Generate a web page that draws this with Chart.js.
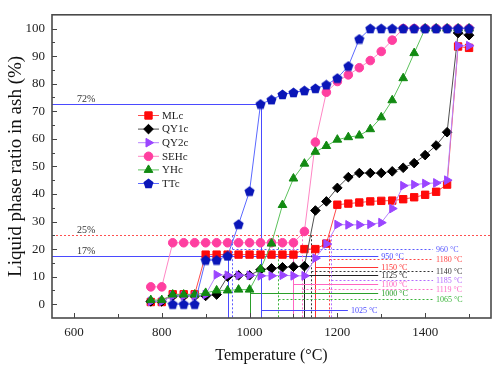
<!DOCTYPE html>
<html>
<head>
<meta charset="utf-8">
<script src="https://cdn.jsdelivr.net/npm/chart.js@4.4.1/dist/chart.umd.min.js"></script>
<style>
  html, body { margin: 0; padding: 0; background: #fff; }
  #wrap { width: 500px; height: 366px; }
</style>
</head>
<body>
<div id="wrap"><canvas id="graph" width="500" height="366"></canvas></div>
<script>
// temperatures (°C) and liquid phase ratio (%) for each ash
const temps = [775, 800, 825, 850, 875, 900, 925, 950, 975, 1000, 1025, 1050, 1075, 1100, 1125,
               1150, 1175, 1200, 1225, 1250, 1275, 1300, 1325, 1350, 1375, 1400, 1425, 1450, 1475, 1500];
const mlc  = [0.8, 0.8, 3.6, 3.6, 3.6, 18, 18, 18, 18, 18, 18, 18, 18, 18, 20,
              20, 22, 36.1, 36.5, 36.9, 37.3, 37.5, 37.6, 38.1, 38.8, 39.7, 40.8, 43.4, 93.5, 93];
const qy1c = [1, 1, 3, 3, 3, 3, 3.5, 10, 10.5, 10.5, 12.5, 13, 13.4, 13.6, 13.8,
              34, 37.3, 42.2, 46.1, 47.6, 47.6, 47.6, 48.2, 49.5, 51.2, 54.1, 57.6, 62.4, 98.4, 97.6];
const qy2c = [1, 1, 3, 3, 3, 3.5, 10.7, 10.5, 10.5, 10.5, 10.3, 10.3, 10.5, 10.3, 10.3,
              16.7, 21.9, 28.9, 28.8, 28.8, 29, 29.6, 34.7, 43, 43.4, 43.8, 44, 45, 93.8, 93.8];
const sehc = [6.3, 6.3, 22.3, 22.3, 22.3, 22.3, 22.3, 22.3, 22.3, 22.3, 22.3, 22.3, 22.3, 22.3, 26.4,
              58.8, 76.9, 80.8, 83.2, 85.8, 88.4, 91.7, 95.8, 100, 100, 100, 100, 100, 100, 100];
const yhc  = [1.5, 1.5, 3.5, 3.5, 3.5, 4.1, 5, 5, 5.3, 5.3, 12.7, 22, 36, 45.6, 51,
              55.3, 57.4, 59.7, 60.6, 61.2, 63.5, 67.8, 74, 82, 91.1, 100, 100, 100, 100, 100];
const ttc  = [null, null, 0, 0, 0, 16, 16, 17.5, 29, 41, 72.6, 74.2, 76.1, 76.8, 77.5,
              78.3, 79.6, 82, 86.4, 96.2, 100, 100, 100, 100, 100, 100, 100, 100, 100, 100];

const xTickVals = [600, 800, 1000, 1200, 1400];
const yTickVals = [0, 10, 20, 30, 40, 50, 60, 70, 80, 90, 100];

// reference levels (72%, 25%, 17%)
const levelValues = [72.6, 25, 17.5];
const levelLabels = ['72%', '25%', '17%'];
const levelEnds = [1025, 1550, 1293];

// characteristic temperatures: vertical drop line + leader with label
const guideTemps  = [960, 950, 1180, 1150, 1140, 1125, 1185, 1100, 1119, 1000, 1065, 1025];
const guideTops   = [25, 17.5, 25, 20, 25, 13.8, 25, 22.3, 25, 5.3, 25, 72.6];
const guideLevels = [20.2, 17.5, 16.3, 13.6, 12.1, 10.6, 8.8, 7.4, 5.6, 4.0, 2.0, -2.1];
const guideEnds   = [1418, 1293, 1418, 1293, 1418, 1293, 1418, 1293, 1418, 1293, 1418, 1224];
const guideColors = ['#5a5aff', '#4a4aff', '#ff4444', '#ff3333', '#333333', '#222222',
                     '#b36bff', '#ff66c2', '#ff6ec8', '#2a9e2a', '#3ab43a', '#4a4aff'];
const guideDotted = [true, false, true, false, true, false, true, false, true, false, true, false];

// pentagon marker for TTc
function pentagon(color) {
  const c = document.createElement('canvas');
  c.width = 11; c.height = 11;
  const g = c.getContext('2d');
  g.beginPath();
  for (let k = 0; k < 5; k++) {
    const a = -Math.PI / 2 + k * 2 * Math.PI / 5;
    const px = 5.5 + 5.3 * Math.cos(a), py = 5.9 + 5.3 * Math.sin(a);
    k ? g.lineTo(px, py) : g.moveTo(px, py);
  }
  g.closePath();
  g.fillStyle = color;
  g.fill();
  return c;
}

const pts = vals => temps.map((t, i) => ({ x: t, y: vals[i] }));

function series(label, vals, line, mark, style, radius, rotation, order) {
  return {
    label: label,
    data: pts(vals),
    borderColor: line,
    borderWidth: 1,
    backgroundColor: mark,
    pointBackgroundColor: mark,
    pointBorderColor: mark,
    pointBorderWidth: 1,
    pointStyle: style,
    pointRadius: radius,
    pointRotation: rotation,
    tension: 0,
    order: order
  };
}

const datasets = [
  series('MLc', mlc, '#ff4a4a', '#ff0a0a', 'rect', 5.2, 0, 5),
  series('QY1c', qy1c, '#505050', '#000000', 'rectRot', 4.8, 0, 4),
  series('QY2c', qy2c, '#b784ff', '#9b45ff', 'triangle', 5, 90, 3),
  series('SEHc', sehc, '#ff86c4', '#ff3fa0', 'circle', 4.3, 0, 2),
  series('YHc', yhc, '#5cc25c', '#128a12', 'triangle', 5, 0, 1),
  series('TTc', ttc, '#5a68ff', '#0a16b8', pentagon('#0a16b8'), 5, 0, 0)
];

function seg(ctx, x1, y1, x2, y2, color, dotted) {
  ctx.beginPath();
  ctx.strokeStyle = color;
  ctx.setLineDash(dotted ? [2, 2] : []);
  ctx.moveTo(x1, y1);
  ctx.lineTo(x2, y2);
  ctx.stroke();
}

const decor = {
  id: 'decor',
  beforeDatasetsDraw(chart) {
    const { ctx, chartArea: a, scales: { x, y } } = chart;
    ctx.save();
    ctx.beginPath();
    ctx.rect(a.left, a.top, a.right - a.left, a.bottom - a.top);
    ctx.clip();
    ctx.lineWidth = 1;

    // levels
    const lvColors = ['#4a4aff', '#ff5050', '#4a4aff'];
    levelValues.forEach((v, i) => {
      const yy = Math.round(y.getPixelForValue(v)) + 0.5;
      seg(ctx, a.left, yy, x.getPixelForValue(levelEnds[i]), yy, lvColors[i], i === 1);
      ctx.setLineDash([]);
      ctx.fillStyle = '#333';
      ctx.font = '10px "Liberation Serif", serif';
      ctx.textBaseline = 'alphabetic';
      ctx.fillText(levelLabels[i], a.left + 25, yy - 3);
    });

    // characteristic temperatures
    ctx.font = '8px "Liberation Serif", serif';
    ctx.textBaseline = 'middle';
    guideTemps.forEach((t, i) => {
      const xx = Math.round(x.getPixelForValue(t)) + 0.5;
      const yl = Math.round(y.getPixelForValue(guideLevels[i])) + 0.5;
      const xe = x.getPixelForValue(guideEnds[i]);
      seg(ctx, xx, y.getPixelForValue(guideTops[i]), xx, a.bottom, guideColors[i], guideDotted[i]);
      seg(ctx, xx, yl, xe, yl, guideColors[i], guideDotted[i]);
      ctx.setLineDash([]);
      ctx.fillStyle = guideColors[i];
      ctx.fillText(t + ' °C', xe + 3, yl);
    });
    ctx.restore();
  },
  afterDraw(chart) {
    const { ctx, chartArea: a, scales: { x, y } } = chart;
    ctx.save();
    ctx.setLineDash([]);
    ctx.strokeStyle = '#444';
    ctx.lineWidth = 1;
    // inside tick marks
    for (let v = 600; v <= 1500; v += 100) {
      const xx = Math.round(x.getPixelForValue(v)) + 0.5;
      seg(ctx, xx, a.bottom, xx, a.bottom - (v % 200 === 0 ? 5 : 4), '#444', false);
    }
    for (let v = 0; v <= 100; v += 5) {
      const yy = Math.round(y.getPixelForValue(v)) + 0.5;
      seg(ctx, a.left, yy, a.left + (v % 10 === 0 ? 5 : 3), yy, '#444', false);
    }
    // frame
    ctx.lineWidth = 1.6;
    ctx.strokeStyle = '#4a4a4a';
    ctx.strokeRect(a.left, a.top, a.right - a.left, a.bottom - a.top);

    // legend
    const lx = 138, ly = 115.5, step = 13.6;
    ctx.font = '11px "Liberation Serif", serif';
    ctx.textBaseline = 'middle';
    chart.data.datasets.forEach((ds, i) => {
      const yy = ly + i * step;
      ctx.lineWidth = 1;
      seg(ctx, lx, yy, lx + 21, yy, ds.borderColor, false);
      ctx.fillStyle = ds.pointBackgroundColor;
      ctx.strokeStyle = ds.pointBorderColor;
      Chart.helpers.drawPoint(ctx, {
        pointStyle: ds.pointStyle, radius: ds.pointRadius,
        rotation: ds.pointRotation, borderWidth: 1
      }, lx + 10.5, yy);
      ctx.fillStyle = '#222';
      ctx.fillText(ds.label, lx + 24, yy + 0.5);
    });
    ctx.restore();
  }
};

new Chart(document.getElementById('graph'), {
  type: 'line',
  data: { datasets: datasets },
  options: {
    responsive: false,
    animation: false,
    layout: { padding: { top: 8, right: 9, left: 0, bottom: 0 } },
    scales: {
      x: {
        type: 'linear',
        min: 550,
        max: 1550,
        afterBuildTicks: s => { s.ticks = xTickVals.map(v => ({ value: v })); },
        afterFit: s => { s.height = 48; },
        grid: { display: false, drawTicks: false },
        border: { display: false },
        ticks: {
          padding: 7,
          maxRotation: 0,
          autoSkip: false,
          color: '#222',
          callback: v => String(v),
          font: { family: '"Liberation Serif", serif', size: 13 }
        },
        title: {
          display: true,
          text: 'Temperature (°C)',
          color: '#111',
          padding: { top: 0, bottom: 1 },
          font: { family: '"Liberation Serif", serif', size: 16 }
        }
      },
      y: {
        min: -5,
        max: 105,
        afterBuildTicks: s => { s.ticks = yTickVals.map(v => ({ value: v })); },
        afterFit: s => { s.width = 52; },
        grid: { display: false, drawTicks: false },
        border: { display: false },
        ticks: {
          padding: 7,
          autoSkip: false,
          color: '#222',
          callback: v => String(v),
          font: { family: '"Liberation Serif", serif', size: 13 }
        },
        title: {
          display: true,
          text: 'Liquid phase ratio in ash (%)',
          color: '#111',
          padding: { top: 5, bottom: 0 },
          font: { family: '"Liberation Serif", serif', size: 19 }
        }
      }
    },
    plugins: {
      legend: { display: false },
      tooltip: { enabled: false }
    }
  },
  plugins: [decor]
});
</script>
</body>
</html>
